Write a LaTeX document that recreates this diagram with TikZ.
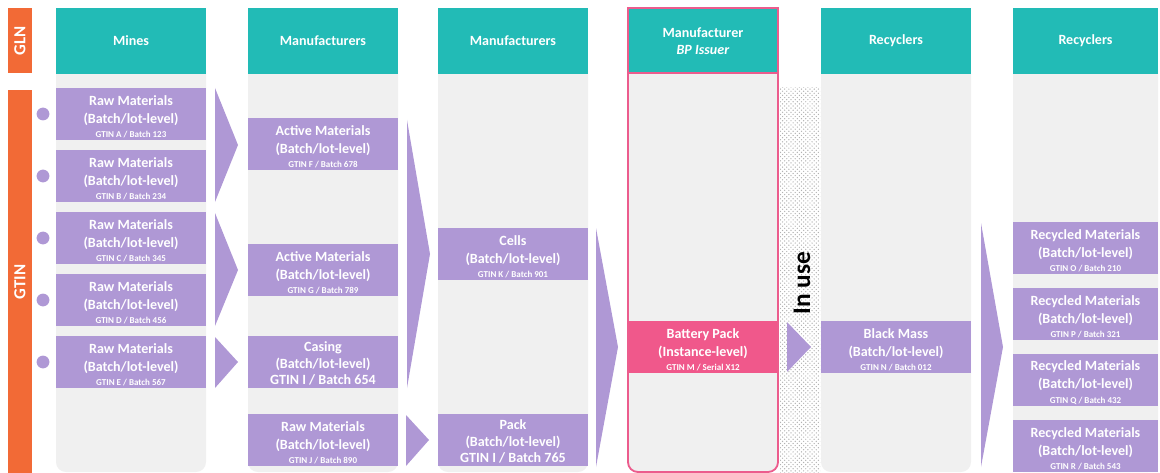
\documentclass[tikz,border=0pt]{standalone}
\usepackage{fontspec}
\setmainfont{Carlito}
\usetikzlibrary{patterns}

\definecolor{gsorange}{RGB}{242,106,54}
\definecolor{gsteal}{RGB}{34,187,182}
\definecolor{gspurple}{RGB}{175,152,213}
\definecolor{gspink}{RGB}{240,88,139}
\definecolor{gsedge}{RGB}{236,92,141}
\definecolor{gsgrey}{RGB}{240,240,240}

% three lines of a material box: name, level, small identifier
\newcommand{\boxlines}[3]{\rule{0pt}{11pt}#1\\#2\\[-2.6pt]{\fontsize{6.4}{7.5}\selectfont #3}}

\tikzset{
  sidebar/.style={fill=gsorange, text=white, rotate=90, inner sep=0pt,
    minimum height=0.6cm, font=\bfseries\fontsize{12}{14}\selectfont},
  hdrbox/.style={fill=gsteal, text=white, inner sep=0pt, align=center,
    minimum width=3.75cm, minimum height=1.625cm,
    font=\bfseries\fontsize{10}{12.5}\selectfont},
  matbox/.style={fill=gspurple, text=white, inner sep=0pt, align=center,
    minimum width=3.75cm, minimum height=1.3cm,
    font=\bfseries\fontsize{10}{12.8}\selectfont},
  panel/.style={fill=gsgrey, rounded corners=7pt},
  flowtri/.style={fill=gspurple},
  gtindot/.style={circle, fill=gspurple, inner sep=0pt, minimum size=0.32cm},
  pinkedge/.style={draw=gsedge, line width=1.3pt},
}

\begin{document}
\begin{tikzpicture}[x=0.025cm, y=-0.025cm]
  \useasboundingbox (0,0) rectangle (1160,473);

  % identifiers on the left
  \node[sidebar, minimum width=1.625cm] (gln) at (20,40.5) {GLN};
  \node[sidebar, minimum width=9.6cm] (gtin) at (20,282) {GTIN};
  \node[gtindot] (d1) at (43,114) {};
  \node[gtindot] (d2) at (43,176) {};
  \node[gtindot] (d3) at (43,238) {};
  \node[gtindot] (d4) at (43,300) {};
  \node[gtindot] (d5) at (43,362) {};

  % grey columns
  \fill[panel] (56,60) rectangle (206,472);
  \fill[panel] (248,60) rectangle (398,472);
  \fill[panel] (438,60) rectangle (588,472);
  \fill[panel] (628,60) rectangle (778,472);
  \fill[panel] (821,60) rectangle (971,472);
  \fill[panel] (1013,60) rectangle (1158,472);
  \fill[pattern=crosshatch dots, pattern color=gray!60] (780,88) rectangle (820,472);

  % headers
  \node[hdrbox] (hMines) at (131,41) {Mines};
  \node[hdrbox] (hManA) at (323,41) {Manufacturers};
  \node[hdrbox] (hManB) at (513,41) {Manufacturers};
  \node[hdrbox] (hIssuer) at (703,41) {Manufacturer\\\textit{BP Issuer}};
  \node[hdrbox] (hRecA) at (896,41) {Recyclers};
  \node[hdrbox, minimum width=3.625cm] (hRecB) at (1085.5,41) {Recyclers};

  % mines
  \node[matbox] (rawA) at (131,114) {\boxlines{Raw Materials}{(Batch/lot-level)}{GTIN A / Batch 123}};
  \node[matbox] (rawB) at (131,176) {\boxlines{Raw Materials}{(Batch/lot-level)}{GTIN B / Batch 234}};
  \node[matbox] (rawC) at (131,238) {\boxlines{Raw Materials}{(Batch/lot-level)}{GTIN C / Batch 345}};
  \node[matbox] (rawD) at (131,300) {\boxlines{Raw Materials}{(Batch/lot-level)}{GTIN D / Batch 456}};
  \node[matbox] (rawE) at (131,362) {\boxlines{Raw Materials}{(Batch/lot-level)}{GTIN E / Batch 567}};

  % manufacturers
  \node[matbox] (actF) at (323,144) {\boxlines{Active Materials}{(Batch/lot-level)}{GTIN F / Batch 678}};
  \node[matbox] (actG) at (323,270) {\boxlines{Active Materials}{(Batch/lot-level)}{GTIN G / Batch 789}};
  \node[matbox] (casing) at (323,362) {\rule{0pt}{9pt}Casing\\[-1.4pt](Batch/lot-level)\\[-1.4pt]GTIN I / Batch 654};
  \node[matbox] (rawJ) at (323,440) {\boxlines{Raw Materials}{(Batch/lot-level)}{GTIN J / Batch 890}};
  \node[matbox] (cells) at (513,254) {\boxlines{Cells}{(Batch/lot-level)}{GTIN K / Batch 901}};
  \node[matbox] (pack) at (513,440) {\rule{0pt}{9pt}Pack\\[-1.4pt](Batch/lot-level)\\[-1.4pt]GTIN I / Batch 765};

  % battery passport issuer
  \node[matbox, fill=gspink] (bpack) at (703,347) {\boxlines{Battery Pack}{(Instance-level)}{GTIN M / Serial X12}};
  \draw[pinkedge] (628,73) -- (628,8) -- (778,8) -- (778,73);
  \draw[pinkedge, rounded corners=7pt] (628,73) -- (628,472) -- (778,472) -- (778,73);
  \draw[pinkedge] (628,73) -- (778,73);

  % in use
  \node[rotate=90, font=\bfseries\fontsize{18}{20}\selectfont] (inuse) at (802,283) {In use};

  % recyclers
  \node[matbox] (bmass) at (896,347) {\boxlines{Black Mass}{(Batch/lot-level)}{GTIN N / Batch 012}};
  \node[matbox, minimum width=3.625cm] (recO) at (1085.5,248) {\boxlines{Recycled Materials}{(Batch/lot-level)}{GTIN O / Batch 210}};
  \node[matbox, minimum width=3.625cm] (recP) at (1085.5,314) {\boxlines{Recycled Materials}{(Batch/lot-level)}{GTIN P / Batch 321}};
  \node[matbox, minimum width=3.625cm] (recQ) at (1085.5,380) {\boxlines{Recycled Materials}{(Batch/lot-level)}{GTIN Q / Batch 432}};
  \node[matbox, minimum width=3.625cm] (recR) at (1085.5,446) {\boxlines{Recycled Materials}{(Batch/lot-level)}{GTIN R / Batch 543}};

  % flow arrows
  \fill[flowtri] (215,88) -- (238,145) -- (215,202) -- cycle;
  \fill[flowtri] (215,213) -- (238,270) -- (215,326) -- cycle;
  \fill[flowtri] (215,337) -- (238,362) -- (215,388) -- cycle;
  \fill[flowtri] (407,120) -- (430,254) -- (407,388) -- cycle;
  \fill[flowtri] (406,415) -- (429,440) -- (406,466) -- cycle;
  \fill[flowtri] (596,228) -- (618,347) -- (596,467) -- cycle;
  \fill[flowtri] (787,322) -- (811,347) -- (787,372) -- cycle;
  \fill[flowtri] (981,223) -- (1003,347) -- (981,467) -- cycle;
\end{tikzpicture}
\end{document}
